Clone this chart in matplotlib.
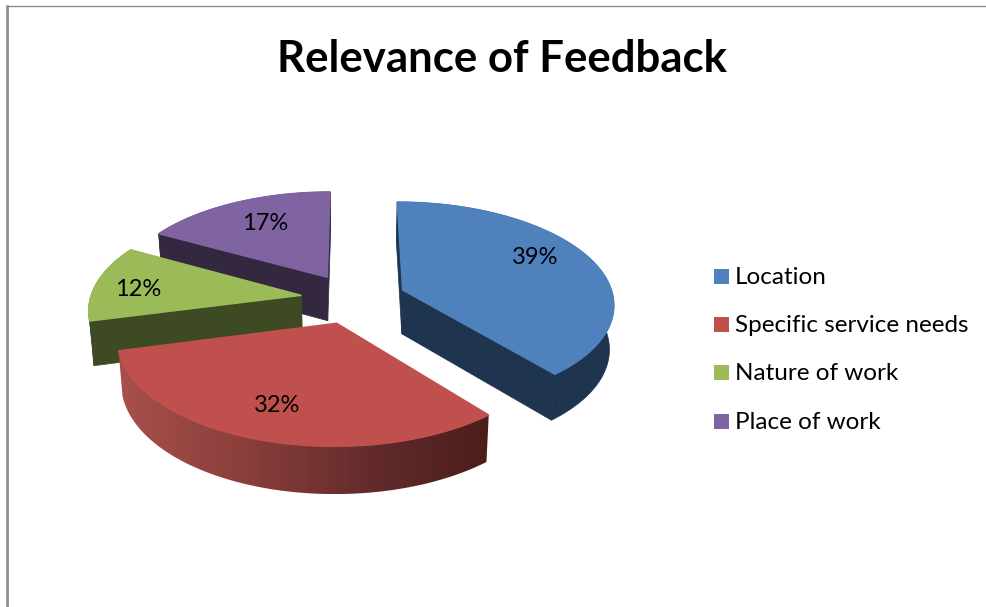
import numpy as np
import matplotlib
matplotlib.use('Agg')
import matplotlib.pyplot as plt
from matplotlib.colors import LinearSegmentedColormap
from matplotlib.patches import Polygon, Rectangle

plt.rcParams['font.family'] = ['Lato', 'DejaVu Sans']

title = 'Relevance of Feedback'
categories = ['Location', 'Specific service needs', 'Nature of work', 'Place of work']
values = [39, 32, 12, 17]

top_colors = ['#4F81BD', '#C0504D', '#9BBB59', '#8064A2']
side_colors = ['#1F344F', '#4F1F1C', '#3E4A23', '#33283F']
label_xy = [(535, 258), (277, 406), (138, 290), (265, 223)]

# view of the pie, in pixels
x0, y0 = 353.5, 298.5
rx, ry = 211, 101
k = 0.125        # perspective
explode = 0.25
depth = 44


def project(u, v):
    d = 1 + k*v
    return x0 + rx*u/d, y0 - ry*v/d


def lower(x, y, v):
    # the same point on the bottom face of the pie
    return x0 + (x - x0)*0.983, y + depth/(1 + 0.5*k*v)


red_wall = LinearSegmentedColormap.from_list('red_wall', ['#A84F4C', '#8B3F3B', '#642C2C', '#4A1D1B'])

fig = plt.figure(figsize=(9.86, 6.07), dpi=100)
ax = fig.add_axes([0, 0, 1, 1])
ax.axis('off')

# frame left over from the screenshot
ax.plot([8, 8], [5, 607], color='#c8c8c8', lw=1.5, solid_capstyle='butt')
ax.plot([7, 7], [5, 607], color='#8c8c8c', lw=1.8, solid_capstyle='butt')
ax.plot([6, 986], [5.5, 5.5], color='#8c8c8c', lw=1.0, solid_capstyle='butt')

fracs = np.array(values)/sum(values)
ends = np.cumsum(fracs)*2*np.pi
starts = ends - fracs*2*np.pi

# back slices first, the red one sits in front of everything
for i in [3, 2, 0, 1]:
    mid = (starts[i] + ends[i])/2
    au, av = explode*np.sin(mid), explode*np.cos(mid)
    th = np.linspace(starts[i], ends[i], 150)
    us, vs = au + np.sin(th), av + np.cos(th)
    xs, ys = project(us, vs)
    ax_, ay_ = project(au, av)
    bx, by = lower(xs, ys, vs)
    abx, aby = lower(ax_, ay_, av)

    # cut faces, the red ones are hidden under its top
    if i != 1:
        for j in [0, -1]:
            ax.add_patch(Polygon([(ax_, ay_), (xs[j], ys[j]), (bx[j], by[j]), (abx, aby)],
                                 fc=side_colors[i], ec=side_colors[i], lw=0.5, zorder=1))
    # outer wall
    wall = Polygon(np.r_[np.c_[xs, ys], np.c_[bx, by][::-1]],
                   fc=side_colors[i], ec=side_colors[i], lw=0.5, zorder=1)
    ax.add_patch(wall)
    if i == 1:
        # red one is shaded from left to right
        wall.set_visible(False)
        im = ax.imshow(np.linspace(0, 1, 256)[None, :], cmap=red_wall, aspect='auto',
                       extent=[xs.min(), xs.max(), by.max(), ys.min()], zorder=1)
        im.set_clip_path(wall)
    # top
    ax.add_patch(Polygon(np.r_[[(ax_, ay_)], np.c_[xs, ys]],
                         fc=top_colors[i], ec=top_colors[i], lw=1, zorder=1))

for v, (lx, ly) in zip(values, label_xy):
    ax.text(lx, ly, str(v) + '%', fontsize=17, color='black', ha='center', va='center', zorder=3)

ax.text(502, 59, title, fontsize=31.5, fontweight='bold', color='black', ha='center', va='center')

for i, name in enumerate(categories):
    yy = 276.5 + i*48.2
    ax.add_patch(Rectangle((714, yy - 7.5), 15, 15, fc=top_colors[i], ec='none'))
    ax.text(735, yy + 1, name, fontsize=17.5, color='black', ha='left', va='center')

ax.set_xlim(0, 986)
ax.set_ylim(607, 0)
fig.savefig('out.png', dpi=100)
